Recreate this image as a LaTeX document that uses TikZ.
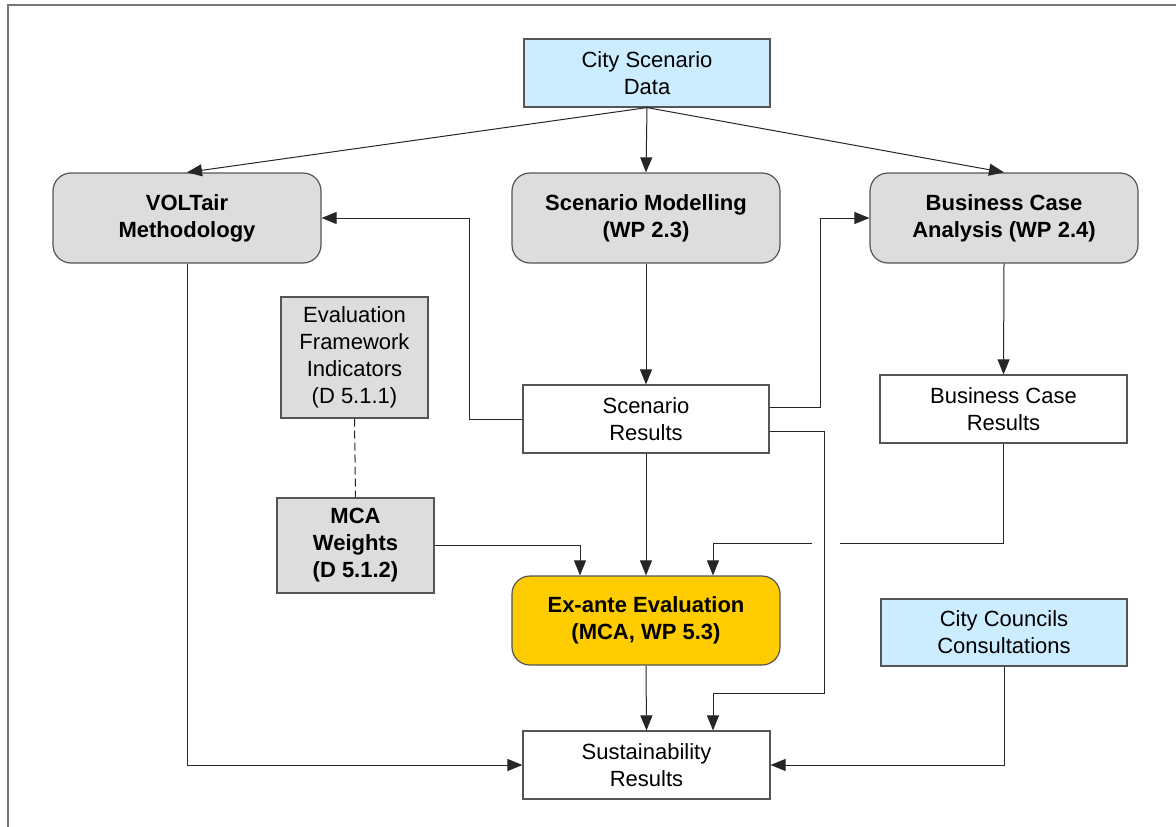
\documentclass[tikz,border=0pt]{standalone}
\usepackage{fontspec}
\setmainfont{Liberation Sans}
\usetikzlibrary{arrows.meta,calc}
\definecolor{lblue}{HTML}{CCECFF}
\definecolor{lgray}{HTML}{DDDDDD}
\definecolor{orng}{HTML}{FFCC00}
\definecolor{bord}{HTML}{555555}
\definecolor{frm}{HTML}{777777}
\tikzset{
  box/.style={draw=bord, line width=1.2pt, align=center, inner sep=0pt,
    font=\fontsize{22}{27}\selectfont},
  rbox/.style={box, rounded corners=18pt, fill=lgray, font=\fontsize{22}{27}\selectfont\bfseries},
  conn/.style={draw=black!85, line width=1pt},
  arr/.style={conn, -{Triangle[length=15pt,width=12pt]}},
}
\begin{document}
\begin{tikzpicture}[x=1pt,y=-1pt]
\useasboundingbox (0,0) rectangle (1176,827);
\draw[frm, line width=2pt] (8,827) -- (8,5) -- (1176,5);

\node[box, fill=lblue, minimum width=246pt, minimum height=68pt] (city) at (647,73) {City Scenario\\Data};
\node[rbox, minimum width=268pt, minimum height=90pt] (volt) at (187,218) {VOLTair\\Methodology};
\node[rbox, minimum width=268pt, minimum height=90pt] (scm) at (646,218) {Scenario Modelling\\(WP 2.3)};
\node[rbox, minimum width=268pt, minimum height=90pt] (bca) at (1004,218) {Business Case\\Analysis (WP 2.4)};
\node[box, fill=lgray, minimum width=147pt, minimum height=121pt] (efi) at (354.5,357.5) {Evaluation\\Framework\\Indicators\\(D 5.1.1)};
\node[box, fill=white, minimum width=246pt, minimum height=68pt] (scr) at (646,419) {Scenario\\Results};
\node[box, fill=white, minimum width=247pt, minimum height=68pt] (bcr) at (1003.5,409) {Business Case\\Results};
\node[box, fill=lgray, minimum width=157pt, minimum height=95pt, font=\fontsize{22}{27}\selectfont\bfseries] (mca) at (355.5,545.5) {MCA\\Weights\\(D 5.1.2)};
\node[rbox, fill=orng, minimum width=268pt, minimum height=89pt] (exa) at (646,620.5) {Ex-ante Evaluation\\(MCA, WP 5.3)};
\node[box, fill=lblue, minimum width=246pt, minimum height=67pt] (ccc) at (1004,632.5) {City Councils\\Consultations};
\node[box, fill=white, minimum width=247pt, minimum height=68pt] (sus) at (646.5,765) {Sustainability\\Results};

\coordinate (j1) at (824,693);
\coordinate (g1) at (840,543);
\coordinate (g2) at (812,543);

\draw[arr] (city.south) -- (volt.north);
\draw[arr] (city.south) -- (scm.north);
\draw[arr] (city.south) -- (bca.north);
\draw[arr] (scm.south) -- (scr.north);
\draw[arr] (scr.west) -- ++(-53,0) |- (volt.east);
\draw[arr] ([yshift=12pt]scr.east) -- ++(51,0) |- (bca.west);
\draw[arr] ([yshift=-12pt]scr.east) -| (j1) -| ([xshift=66.5pt]sus.north);
\draw[arr] (bca.south) -- (bcr.north);
\draw[conn] (bcr.south) |- (g1);
\draw[arr] (g2) -| ([xshift=67pt]exa.north);
\draw[conn, dash pattern=on 8pt off 4pt] (efi.south) -- (mca.north);
\draw[arr] (mca.east) -| ([xshift=-66pt]exa.north);
\draw[arr] (scr.south) -- (exa.north);
\draw[arr] (exa.south) -- (sus.north);
\draw[arr] (volt.south) |- (sus.west);
\draw[arr] (ccc.south) |- (sus.east);
\end{tikzpicture}
\end{document}
